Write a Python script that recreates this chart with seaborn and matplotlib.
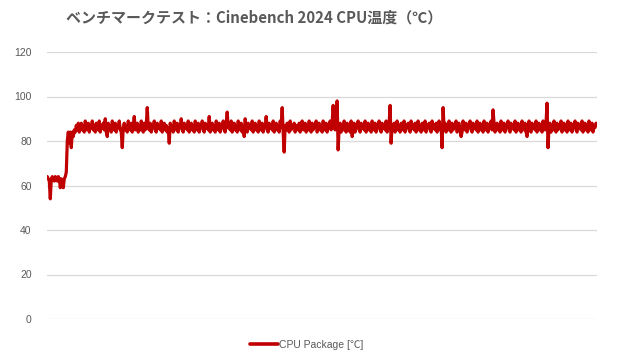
import numpy as np
import pandas as pd
import matplotlib
matplotlib.use("Agg")
import matplotlib.pyplot as plt
import seaborn as sns
from matplotlib.lines import Line2D

title = "ベンチマークテスト：Cinebench 2024 CPU温度（℃）"
series_name = "CPU Package [℃]"
y_ticks = [0, 20, 40, 60, 80, 100, 120]

cpu_package = [
    64, 63, 62, 54, 63, 64, 63, 62, 64, 63, 62, 64, 63, 59, 63, 62, 59, 63, 64, 66, 80, 84, 79, 84, 77,
    84, 82, 85, 84, 87, 85, 88, 84, 86, 88, 85, 87, 84, 89, 85, 86, 88, 84, 87, 86, 89, 85, 87, 84, 88,
    86, 85, 89, 84, 87, 86, 88, 85, 90, 84, 82, 88, 85, 87, 84, 89, 86, 85, 88, 84, 87, 86, 89, 85, 84,
    77, 86, 88, 85, 87, 84, 89, 86, 85, 88, 84, 87, 91, 85, 86, 88, 84, 87, 85, 89, 86, 84, 88, 85, 87,
    95, 86, 85, 88, 84, 87, 86, 89, 85, 84, 88, 86, 87, 85, 89, 84, 86, 88, 85, 87, 84, 86, 79, 88, 85,
    87, 84, 89, 86, 85, 88, 84, 87, 86, 90, 85, 84, 88, 86, 87, 85, 89, 84, 86, 88, 85, 87, 84, 89, 86,
    85, 88, 84, 87, 86, 89, 85, 84, 88, 86, 87, 85, 91, 84, 86, 88, 85, 87, 84, 89, 86, 85, 88, 84, 87,
    86, 89, 85, 84, 88, 93, 86, 87, 85, 89, 84, 86, 88, 85, 87, 84, 89, 86, 85, 88, 84, 87, 82, 90, 85,
    84, 88, 86, 87, 85, 89, 84, 86, 88, 85, 87, 84, 89, 86, 85, 88, 84, 87, 86, 91, 85, 84, 88, 86, 87,
    85, 89, 84, 86, 88, 85, 87, 84, 89, 86, 95, 84, 75, 87, 85, 88, 86, 84, 89, 85, 87, 86, 88, 84, 87,
    86, 85, 88, 84, 87, 89, 85, 86, 88, 84, 87, 85, 89, 86, 84, 88, 85, 87, 86, 89, 84, 86, 88, 85, 87,
    84, 89, 86, 85, 88, 84, 87, 86, 89, 85, 88, 96, 87, 85, 89, 98, 76, 86, 88, 84, 87, 85, 89, 86, 84,
    88, 85, 87, 84, 89, 82, 85, 88, 84, 87, 86, 89, 85, 84, 88, 86, 87, 85, 89, 84, 86, 88, 85, 87, 84,
    89, 86, 85, 88, 84, 87, 86, 89, 85, 84, 88, 86, 87, 85, 89, 84, 86, 88, 96, 79, 87, 85, 88, 84, 86,
    89, 85, 87, 84, 88, 86, 85, 89, 84, 87, 86, 88, 85, 84, 89, 86, 87, 85, 88, 84, 86, 89, 85, 87, 84,
    88, 86, 85, 89, 84, 87, 86, 88, 85, 84, 89, 86, 87, 85, 88, 84, 86, 89, 85, 87, 77, 95, 86, 88, 84,
    87, 85, 89, 86, 84, 88, 85, 87, 86, 89, 84, 86, 88, 85, 82, 84, 89, 86, 85, 88, 84, 87, 86, 89, 85,
    84, 88, 86, 87, 85, 89, 84, 86, 88, 85, 87, 84, 89, 86, 85, 88, 84, 87, 86, 89, 85, 94, 88, 84, 86,
    88, 85, 87, 84, 89, 86, 85, 88, 84, 87, 86, 89, 85, 84, 88, 86, 87, 85, 89, 84, 86, 88, 85, 87, 84,
    89, 86, 85, 88, 84, 82, 86, 89, 85, 84, 88, 86, 87, 85, 89, 84, 86, 88, 85, 87, 84, 89, 86, 85, 88,
    97, 77, 86, 88, 84, 87, 85, 89, 86, 84, 88, 85, 87, 86, 89, 84, 86, 88, 85, 87, 84, 89, 86, 85, 88,
    84, 87, 86, 89, 85, 84, 88, 86, 87, 85, 89, 84, 86, 88, 85, 87, 84, 89, 86, 85, 88, 84, 87, 86, 88,
]

df = pd.DataFrame({"t": np.arange(len(cpu_package)), "temp": cpu_package, "series": series_name})

sns.set_style("white")
plt.rcParams["font.family"] = ["Liberation Sans", "Noto Sans CJK JP", "DejaVu Sans"]

fig = plt.figure(figsize=(6.2, 3.6), dpi=100)
ax = fig.add_axes([47 / 620, 1 - 319 / 360, 550 / 620, 267 / 360])

sns.lineplot(data=df, x="t", y="temp", hue="series", palette=["#C00000"],
             linewidth=2.3, ax=ax, legend=False)

ax.set_ylim(0, 120)
ax.set_xlim(-0.3, 550)
ax.set_yticks(y_ticks)
ax.set_yticklabels([str(v) for v in y_ticks], color="#595959", fontsize=7.5)
ax.set_xticks([])
ax.set_xlabel("")
ax.set_ylabel("")
ax.grid(axis="y", color="#D9D9D9", linewidth=0.9)
ax.set_axisbelow(True)
for s in ax.spines.values():
    s.set_visible(False)
ax.tick_params(axis="y", length=0, pad=11)

fig.text(254 / 620, 1 - 18 / 360, title, ha="center", va="center",
         fontsize=10.8, fontweight="bold", color="#595959",
         family=["Noto Sans CJK JP", "DejaVu Sans"])

h = Line2D([], [], color="#C00000", linewidth=2.6)
fig.legend([h], [series_name], loc="center", bbox_to_anchor=(307 / 620, 1 - 345 / 360),
           frameon=False, fontsize=7.5, handlelength=2.7, handletextpad=0.1,
           labelcolor="#595959")

fig.savefig("out.png", dpi=100, facecolor="white")
